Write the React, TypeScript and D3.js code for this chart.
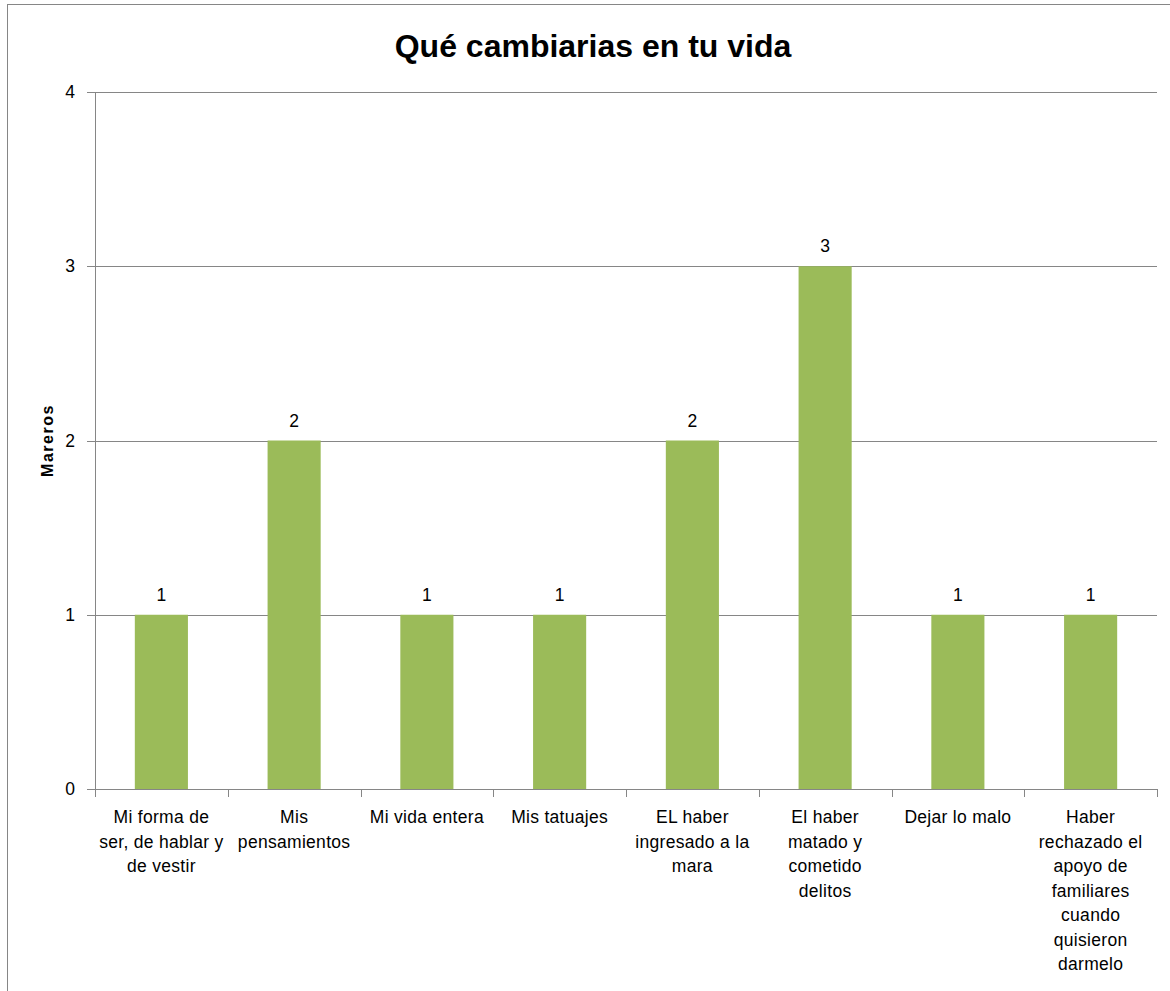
import React from "react";
import * as d3 from "d3";

const title = "Qué cambiarias en tu vida";
const yAxisTitle = "Mareros";
const categories = [
  "Mi forma de ser, de hablar y de vestir",
  "Mis pensamientos",
  "Mi vida entera",
  "Mis tatuajes",
  "EL haber ingresado a la mara",
  "El haber matado y cometido delitos",
  "Dejar lo malo",
  "Haber rechazado el apoyo de familiares cuando quisieron darmelo",
];
const categoryLines = [
  ["Mi forma de", "ser, de hablar y", "de vestir"],
  ["Mis", "pensamientos"],
  ["Mi vida entera"],
  ["Mis tatuajes"],
  ["EL haber", "ingresado a la", "mara"],
  ["El haber", "matado y", "cometido", "delitos"],
  ["Dejar lo malo"],
  ["Haber", "rechazado el", "apoyo de", "familiares", "cuando", "quisieron", "darmelo"],
];
const values = [1, 2, 1, 1, 2, 3, 1, 1];
const yTicks = [0, 1, 2, 3, 4];

const W = 1170;
const H = 991;
const margin = { left: 95, right: 13, top: 92, bottom: 202 };
const FONT = "'Liberation Sans', Arial, sans-serif";
const GRID = "#868686";
const BAR = "#9BBB59";
const FS = 17.5;

export default function App() {
  const x = d3
    .scaleBand<string>()
    .domain(categories)
    .range([margin.left, W - margin.right])
    .paddingInner(0)
    .paddingOuter(0);
  const y = d3
    .scaleLinear()
    .domain([0, 4])
    .range([H - margin.bottom, margin.top]);
  const bw = x.bandwidth() * 0.4;
  const y0 = y(0);

  return (
    <svg
      width={W}
      height={H}
      style={{ position: "absolute", left: 0, top: 0, background: "#fff" }}
      fontFamily={FONT}
    >
      <rect x={7.5} y={4.5} width={W + 10} height={H + 10} fill="#fff" stroke={GRID} strokeWidth={1} />
      <text x={593} y={57} textAnchor="middle" fontSize={32} fontWeight="bold" fill="#000">
        {title}
      </text>
      {yTicks.map((t) => (
        <g key={t}>
          <line x1={margin.left - 8} x2={W - margin.right} y1={Math.round(y(t)) + 0.5} y2={Math.round(y(t)) + 0.5} stroke={GRID} strokeWidth={1} />
          <text x={75} y={y(t) + 6} textAnchor="end" fontSize={FS} fill="#000">
            {t}
          </text>
        </g>
      ))}
      <line x1={margin.left + 0.5} x2={margin.left + 0.5} y1={margin.top} y2={y0} stroke={GRID} />
      {categories.map((c, i) => (
        <line key={"t" + i} x1={Math.round(x(c)!) + 0.5} x2={Math.round(x(c)!) + 0.5} y1={y0} y2={y0 + 8} stroke={GRID} />
      ))}
      <line x1={W - margin.right + 0.5} x2={W - margin.right + 0.5} y1={y0} y2={y0 + 8} stroke={GRID} />
      {categories.map((c, i) => {
        const cx = x(c)! + x.bandwidth() / 2;
        return (
          <g key={"b" + i}>
            <rect x={cx - bw / 2} y={y(values[i])} width={bw} height={y0 - y(values[i])} fill={BAR} />
            <text x={cx} y={y(values[i]) - 14} textAnchor="middle" fontSize={FS} fill="#000">
              {values[i]}
            </text>
          </g>
        );
      })}
      <line x1={margin.left - 8} x2={W - margin.right} y1={Math.round(y0) + 0.5} y2={Math.round(y0) + 0.5} stroke={GRID} />
      {categories.map((c, i) => {
        const cx = x(c)! + x.bandwidth() / 2;
        return (
          <text key={"l" + i} x={cx} y={y0 + 34} textAnchor="middle" fontSize={FS} letterSpacing={0.3} fill="#000">
            {categoryLines[i].map((ln, j) => (
              <tspan key={j} x={cx} dy={j === 0 ? 0 : 24.5}>
                {ln}
              </tspan>
            ))}
          </text>
        );
      })}
      <text
        transform={`translate(53, ${(margin.top + y0) / 2}) rotate(-90)`}
        textAnchor="middle"
        fontSize={16}
        fontWeight="bold"
        letterSpacing={1.5}
        fill="#000"
      >
        {yAxisTitle}
      </text>
    </svg>
  );
}
